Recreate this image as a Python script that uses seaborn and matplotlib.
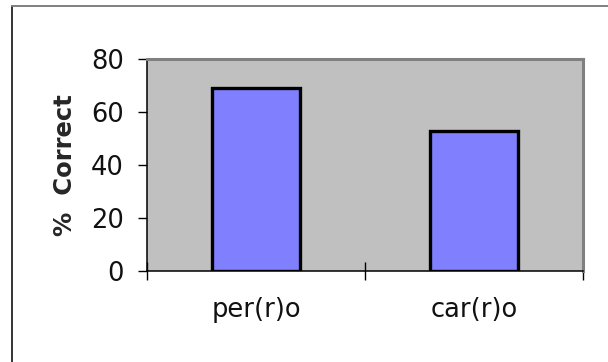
import matplotlib
matplotlib.use("Agg")
import matplotlib.pyplot as plt
from matplotlib.lines import Line2D
import pandas as pd
import seaborn as sns

# Data
categories = ["per(r)o", "car(r)o"]
percent_correct = [69, 53]
y_ticks = [0, 20, 40, 60, 80]

df = pd.DataFrame({"word": categories, "pct": percent_correct})

sns.set_theme(style="white")
plt.rcParams["font.family"] = ["DejaVu Sans"]

fig = plt.figure(figsize=(6.08, 3.62), dpi=100)
ax = fig.add_axes([147 / 608, 91 / 362, 436 / 608, 212 / 362])
ax.set_facecolor("#C0C0C0")

sns.barplot(data=df, x="word", y="pct", ax=ax, color="#8080FF",
            saturation=1, width=0.4, edgecolor="black", linewidth=2.4)

ax.set_xlim(-0.5, 1.5)
ax.set_ylim(0, 80)
ax.set_yticks(y_ticks)
ax.set_yticklabels([str(v) for v in y_ticks], fontsize=18.5, color="#111111")

# Category labels at the bar centres, tick marks at category boundaries
ax.set_xticks([0, 1])
ax.set_xticklabels(categories, fontsize=18.5, color="#111111")
ax.set_xticks([-0.5, 0.5, 1.5], minor=True)
ax.tick_params(axis="x", which="major", length=0, pad=19)
ax.tick_params(axis="x", which="minor", direction="inout", length=13,
               width=1, color="black", bottom=True)
ax.tick_params(axis="y", which="major", direction="out", length=6.5,
               width=1, color="black", left=True, pad=10)

ax.set_xlabel("")
ax.set_ylabel("%  Correct", fontsize=17.5, fontweight="bold", va="center")
ax.yaxis.set_label_coords(-0.188, 0.5)

for side in ("left", "bottom"):
    ax.spines[side].set_color("black")
    ax.spines[side].set_linewidth(1.1)
for side in ("top", "right"):
    ax.spines[side].set_visible(True)
    ax.spines[side].set_color("#808080")
    ax.spines[side].set_linewidth(2.2)

# Outer chart frame (left and top edges)
fig.add_artist(Line2D([12 / 608, 12 / 608], [0, 1 - 6 / 362],
                      transform=fig.transFigure, color="#333333", lw=1.4))
fig.add_artist(Line2D([12 / 608, 1], [1 - 6 / 362, 1 - 6 / 362],
                      transform=fig.transFigure, color="#808080", lw=1.4))

fig.savefig("out.png", dpi=100, facecolor="white")
